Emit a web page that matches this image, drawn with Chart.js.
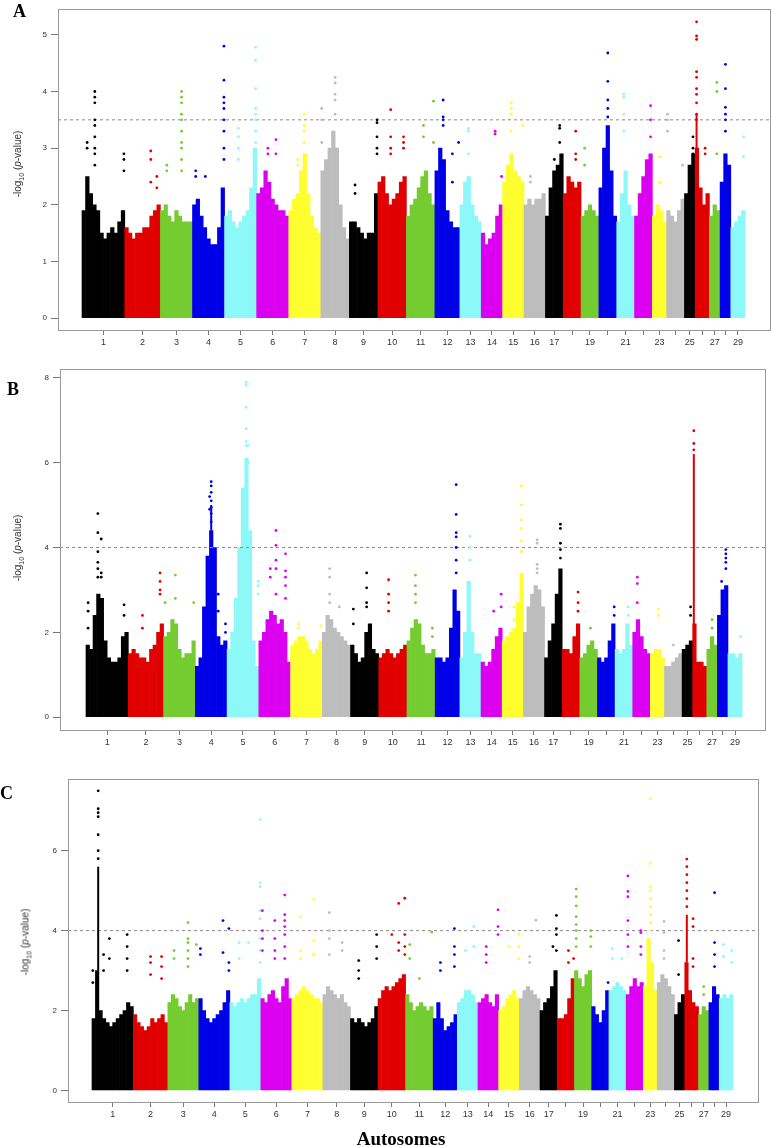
<!DOCTYPE html>
<html>
  <head>
    <meta charset="utf-8" />
    <title>Manhattan plots</title>
    <script src="https://cdn.jsdelivr.net/npm/chart.js"></script>
    <style>
      body { margin: 0; background: #fff; }
      #page { position: relative; width: 772px; height: 1147px; overflow: hidden; }
      .panel { position: absolute; left: 0; }
      .letter { position: absolute; font: bold 18px "Liberation Serif", "Times New Roman", serif; line-height: 1; color: #000; }
      .ytitle { position: absolute; transform: translate(-50%, -50%) rotate(-90deg); white-space: nowrap;
                font: 10px "Liberation Sans", Arial, sans-serif; color: #333; z-index: 2; }
      .ytitle sub { font-size: 7px; }
      #xtitle { position: absolute; left: 401px; top: 1129px; transform: translateX(-50%);
                font: bold 19px "Liberation Serif", "Times New Roman", serif; line-height: 1; }
    </style>
  </head>
  <body>
    <div id="page">
      <div class="panel" style="top:0"><canvas id="chartA" width="772" height="356"></canvas></div>
      <div class="panel" style="top:360px"><canvas id="chartB" width="772" height="400"></canvas></div>
      <div class="panel" style="top:770px"><canvas id="chartC" width="772" height="377"></canvas></div>
      <div class="letter" style="left:13px; top:2px">A</div>
      <div class="letter" style="left:7px; top:380px">B</div>
      <div class="letter" style="left:0px; top:784px">C</div>
      <div class="ytitle" style="left:18px; top:164px">-log<sub>10</sub> (<i>p</i>-value)</div>
      <div class="ytitle" style="left:18px; top:548px">-log<sub>10</sub> (<i>p</i>-value)</div>
      <div class="ytitle" style="left:26px; top:942px">-log<sub>10</sub> (<i>p</i>-value)</div>
      <div id="xtitle">Autosomes</div>
    </div>

    <script>
      // tick labels under each chromosome (R drops the ones that would overlap)
      const chromLabels = ["1", "2", "3", "4", "5", "6", "7", "8", "9", "10", "11", "12", "13", "14",
        "15", "16", "17", "", "19", "", "21", "", "23", "", "25", "", "27", "", "29"];
      const palette = ["#000000", "#e00000", "#74cc30", "#0000e8", "#8cf8f8", "#dc00f0", "#ffff30", "#bdbdbd"];
      const thresholds = [3.5, 4, 4];

      // dense band height per bin, one list per chromosome
      const heightsA = [
        [1.9, 2.5, 2.2, 2.0, 1.9, 1.5, 1.4, 1.5, 1.6, 1.5, 1.7, 1.9],
        [1.6, 1.5, 1.4, 1.5, 1.5, 1.6, 1.6, 1.8, 1.9, 2.0],
        [1.9, 2.0, 1.8, 1.7, 1.9, 1.8, 1.7, 1.7, 1.7],
        [2.0, 2.1, 1.8, 1.6, 1.4, 1.3, 1.3, 1.6, 2.3],
        [1.8, 1.9, 1.7, 1.6, 1.7, 1.8, 1.9, 2.3, 3.0],
        [2.2, 2.3, 2.6, 2.4, 2.1, 2.0, 1.9, 1.9, 1.8],
        [1.9, 2.1, 2.2, 2.6, 2.9, 2.2, 1.8, 1.6, 1.5],
        [2.6, 2.8, 3.0, 3.3, 3.0, 2.0, 1.6, 1.4],
        [1.7, 1.7, 1.6, 1.5, 1.4, 1.5, 1.5, 2.2],
        [2.4, 2.5, 2.2, 2.0, 2.1, 2.2, 2.4, 2.5],
        [1.8, 2.0, 2.1, 2.3, 2.5, 2.6, 2.2, 2.0],
        [2.6, 3.0, 2.8, 1.9, 1.7, 1.6, 1.6],
        [2.0, 2.4, 2.5, 2.0, 1.8, 1.7],
        [1.5, 1.3, 1.4, 1.5, 1.8, 2.0],
        [2.4, 2.7, 2.9, 2.6, 2.5, 2.4],
        [2.0, 2.1, 2.0, 2.1, 2.1, 2.2],
        [1.8, 2.3, 2.6, 2.7, 2.9],
        [2.2, 2.5, 2.4, 2.3, 2.4],
        [1.8, 1.9, 2.0, 1.9, 1.8],
        [2.3, 3.0, 3.4, 2.6, 1.8],
        [1.7, 2.2, 2.6, 2.0, 1.8],
        [1.8, 2.2, 2.5, 2.8, 2.9],
        [1.8, 2.0, 1.9, 1.7],
        [1.9, 1.8, 1.7, 1.9, 2.1],
        [2.2, 2.7, 2.9],
        [3.0, 2.3, 2.0, 2.2],
        [1.8, 2.0, 1.9],
        [2.4, 2.9, 2.7],
        [1.6, 1.7, 1.8, 1.9]
      ];
      const heightsB = [
        [1.7, 1.6, 2.4, 2.9, 2.8, 1.8, 1.4, 1.3, 1.3, 1.4, 1.9, 2.0],
        [1.5, 1.6, 1.5, 1.4, 1.4, 1.3, 1.6, 1.7, 2.0, 2.2],
        [1.9, 2.0, 2.3, 2.2, 1.6, 1.4, 1.5, 1.5, 1.8],
        [1.2, 1.4, 2.6, 3.8, 4.4, 4.0, 1.9, 1.7, 1.8],
        [1.6, 2.0, 2.8, 4.0, 5.4, 6.1, 4.4, 1.8, 1.2],
        [1.8, 2.0, 2.3, 2.5, 2.4, 2.2, 2.3, 2.0, 1.3],
        [1.7, 1.8, 1.9, 1.9, 1.8, 1.6, 1.5, 1.6, 1.8],
        [2.0, 2.4, 2.3, 2.1, 2.0, 1.9, 1.8, 1.7],
        [1.7, 1.5, 1.3, 1.4, 2.0, 2.2, 1.6, 1.5],
        [1.4, 1.5, 1.6, 1.5, 1.4, 1.5, 1.6, 1.7],
        [1.8, 2.1, 2.3, 2.2, 1.7, 1.5, 1.5, 1.6],
        [1.4, 1.4, 1.3, 1.4, 2.1, 3.0, 2.5],
        [1.4, 2.0, 3.2, 2.0, 1.5, 1.5],
        [1.3, 1.2, 1.3, 1.6, 1.9, 2.1],
        [1.8, 1.9, 2.0, 2.1, 2.7, 3.4],
        [2.0, 2.6, 2.9, 3.1, 3.0, 2.6],
        [1.4, 1.8, 2.2, 2.9, 3.5],
        [1.6, 1.6, 1.5, 1.9, 2.2],
        [1.4, 1.5, 1.7, 1.8, 1.6],
        [1.4, 1.3, 1.4, 1.8, 2.2],
        [1.6, 1.5, 1.6, 2.2, 1.7],
        [2.0, 2.3, 1.9, 1.6, 1.5],
        [1.5, 1.6, 1.6, 1.4],
        [1.2, 1.2, 1.3, 1.4, 1.5],
        [1.6, 1.7, 1.8],
        [2.2, 1.3, 1.3, 1.2],
        [1.6, 1.9, 1.7],
        [2.4, 3.0, 3.1],
        [1.5, 1.5, 1.4, 1.5]
      ];
      const heightsC = [
        [1.8, 3.0, 2.0, 1.8, 1.7, 1.6, 1.7, 1.8, 1.9, 2.0, 2.2, 2.1],
        [1.9, 1.7, 1.6, 1.5, 1.6, 1.8, 1.7, 1.8, 1.9, 1.7],
        [2.2, 2.4, 2.3, 2.1, 2.0, 2.2, 2.4, 2.2, 2.3],
        [2.3, 2.0, 1.8, 1.7, 1.8, 1.9, 2.0, 2.2, 2.5],
        [2.2, 2.1, 2.2, 2.3, 2.2, 2.3, 2.4, 2.4, 2.8],
        [2.3, 2.2, 2.4, 2.5, 2.3, 2.2, 2.6, 2.8, 2.3],
        [2.3, 2.4, 2.5, 2.6, 2.5, 2.4, 2.3, 2.3, 2.2],
        [2.4, 2.6, 2.5, 2.4, 2.3, 2.4, 2.2, 2.1],
        [1.8, 1.7, 1.8, 1.7, 1.6, 1.7, 1.8, 2.1],
        [2.3, 2.5, 2.6, 2.5, 2.6, 2.7, 2.8, 2.9],
        [2.4, 2.2, 2.0, 2.1, 2.2, 2.1, 2.0, 2.1],
        [1.8, 2.2, 1.8, 1.5, 1.6, 1.7, 1.9],
        [2.2, 2.3, 2.5, 2.5, 2.4, 2.2],
        [2.2, 2.3, 2.4, 2.2, 2.1, 2.4],
        [2.0, 2.1, 2.3, 2.4, 2.5, 2.3],
        [2.3, 2.5, 2.6, 2.5, 2.4, 2.3],
        [2.0, 2.2, 2.3, 2.6, 3.0],
        [1.8, 1.8, 1.9, 2.3, 2.8],
        [3.0, 2.8, 2.6, 2.9, 3.0],
        [2.1, 1.9, 1.7, 2.0, 2.5],
        [2.5, 2.6, 2.7, 2.6, 2.5],
        [2.4, 2.6, 2.8, 2.6, 2.7],
        [2.6, 3.8, 3.2, 2.5],
        [2.7, 2.9, 2.8, 2.6, 2.4],
        [1.9, 2.2, 2.4],
        [3.2, 2.5, 2.2, 2.1],
        [1.9, 2.1, 2.0],
        [2.2, 2.6, 2.4],
        [2.3, 2.4, 2.3, 2.4]
      ];

      // sparse SNPs above the band: [chromosome, position within it (0-1), values]
      const peaksA = [
        [1, 0.3, [4.0, 3.9, 3.8, 3.5, 3.4, 3.2, 3.0, 2.9, 2.7]], [1, 0.12, [3.1, 3.0]], [1, 0.98, [2.9, 2.8, 2.6]],
        [2, 0.73, [2.95, 2.8, 2.4]], [2, 0.9, [2.5, 2.3]],
        [3, 0.66, [4.0, 3.9, 3.8, 3.6, 3.5, 3.3, 3.1, 3.0, 2.8, 2.6]], [3, 0.2, [2.7, 2.6]],
        [4, 0.98, [4.8, 4.2, 3.9, 3.8, 3.7, 3.5, 3.3, 3.0, 2.8]], [4, 0.1, [2.6, 2.5]], [4, 0.4, [2.5]],
        [5, 0.97, [4.78, 4.55, 4.05, 3.7, 3.6, 3.5, 3.3, 3.1]], [5, 0.43, [3.35, 3.2, 3.0, 2.8]],
        [6, 0.6, [3.15, 2.9]], [6, 0.35, [3.0, 2.9]],
        [7, 0.48, [3.6, 3.4, 3.3, 3.1]], [7, 0.28, [2.8, 2.7]],
        [8, 0.5, [4.25, 4.15, 3.95, 3.85, 3.6]], [8, 0.03, [3.7, 3.5, 3.1]],
        [9, 0.2, [2.35, 2.2]], [9, 0.97, [3.5, 3.45, 3.2, 3.0, 2.9]],
        [10, 0.45, [3.68, 3.2, 3.0, 2.9]], [10, 0.9, [3.2, 3.1, 3.0]],
        [11, 0.6, [3.4, 3.2]], [11, 0.95, [3.83, 3.1]],
        [12, 0.33, [3.85, 3.55, 3.5, 3.4]], [12, 0.7, [2.9, 2.4]], [12, 0.95, [3.1]],
        [13, 0.4, [3.35, 3.3, 2.9]],
        [14, 0.65, [3.3, 3.25]], [14, 0.95, [2.5]],
        [15, 0.4, [3.8, 3.7, 3.6, 3.3]], [15, 0.95, [3.4]],
        [16, 0.3, [2.5, 2.4]],
        [17, 0.8, [3.4, 3.35, 3.1]], [17, 0.5, [2.8]],
        [18, 0.7, [3.3, 2.9, 2.8]],
        [19, 0.2, [3.0, 2.7]],
        [20, 0.5, [4.68, 4.18, 3.85, 3.7, 3.55]],
        [21, 0.4, [3.95, 3.9, 3.6, 3.3]],
        [22, 0.9, [3.75, 3.5, 3.2]],
        [23, 0.5, [2.85, 2.4]],
        [24, 0.05, [3.6, 3.5, 3.3]], [24, 0.9, [2.7]],
        [25, 0.8, [3.2, 3.0, 2.9]],
        [26, 0.1, [5.23, 4.98, 4.92, 4.35, 4.25, 4.05, 3.95, 3.8, 3.6, 3.5]], [26, 0.7, [3.0, 2.9]],
        [27, 0.7, [4.16, 4.0, 2.9]],
        [28, 0.5, [4.48, 4.05, 3.72, 3.6, 3.5, 3.3]],
        [29, 0.9, [3.2, 2.85]]
      ];
      const peaksB = [
        [1, 0.28, [4.8, 4.35, 3.9, 3.65, 3.5, 3.3]], [1, 0.36, [4.2, 3.4, 3.3]], [1, 0.05, [2.7, 2.5, 2.1]], [1, 0.9, [2.65, 2.4]],
        [2, 0.9, [3.4, 3.2, 3.0, 2.9]], [2, 0.4, [2.4, 2.1]],
        [3, 0.37, [3.35, 2.8]], [3, 0.95, [2.7]], [3, 0.05, [2.7]],
        [4, 0.5, [5.55, 5.45, 5.3, 5.1, 4.95, 4.8, 4.6]], [4, 0.45, [5.2, 4.9]], [4, 0.72, [2.9, 2.5]], [4, 0.95, [2.2, 2.0]],
        [5, 0.6, [7.89, 7.82, 7.3, 6.8, 6.5, 6.4]], [5, 0.66, [6.4, 6.0]], [5, 0.98, [3.2, 3.1, 2.9]],
        [6, 0.54, [4.4, 4.05, 3.7, 3.5, 2.9]], [6, 0.84, [3.85, 3.45, 3.3, 3.1, 2.8]], [6, 0.36, [3.5, 3.3]],
        [7, 0.25, [2.2, 2.1]], [7, 0.95, [2.15]],
        [8, 0.26, [3.5, 3.3, 2.9, 2.7]], [8, 0.6, [2.6]],
        [9, 0.57, [3.4, 3.05, 2.7, 2.6]], [9, 0.1, [2.55, 2.2]],
        [10, 0.35, [3.24, 2.9, 2.7, 2.5]],
        [11, 0.3, [3.35, 3.1, 2.9, 2.7]], [11, 0.9, [2.1, 1.9]],
        [12, 0.85, [5.48, 4.78, 4.35, 4.25, 4.0, 3.7, 3.4]],
        [13, 0.48, [4.26, 4.0, 3.7]],
        [14, 0.95, [2.9, 2.6]], [14, 0.6, [2.5]],
        [15, 0.9, [5.45, 5.0, 4.65, 4.45, 4.15, 3.9]], [15, 0.55, [2.6, 2.3]],
        [16, 0.65, [4.18, 4.1, 3.6, 3.5, 3.4]],
        [17, 0.9, [4.55, 4.45, 4.1, 3.95, 3.75]],
        [18, 0.9, [2.95, 2.7, 2.5]],
        [19, 0.6, [2.1]],
        [20, 0.95, [2.6, 2.4]],
        [21, 0.75, [2.6, 2.4]],
        [22, 0.26, [3.3, 3.15, 2.7]],
        [23, 0.55, [2.55, 2.4]],
        [24, 0.5, [1.7]],
        [25, 0.8, [2.6, 2.4]],
        [26, 0.08, [6.75, 6.45, 6.3]],
        [27, 0.5, [2.3, 2.1]],
        [28, 0.8, [3.95, 3.85, 3.75, 3.65, 3.5]], [28, 0.4, [3.2]],
        [29, 0.9, [1.9]]
      ];
      const peaksC = [
        [1, 0.15, [7.5, 7.05, 6.95, 6.85, 6.4, 6.0, 5.8]], [1, 0.42, [3.8, 3.3]], [1, 0.85, [3.9, 3.6, 3.3, 3.0]],
        [1, 0.28, [3.4, 3.0]], [1, 0.02, [3.0, 2.7]],
        [2, 0.5, [3.35, 3.2, 2.9]], [2, 0.82, [3.35, 3.1, 2.8]],
        [3, 0.65, [4.2, 3.8, 3.7, 3.5, 3.3, 3.1]], [3, 0.2, [3.5, 3.3]], [3, 0.92, [3.65]],
        [4, 0.78, [4.25, 3.45]], [4, 0.97, [4.05, 3.2, 3.0]], [4, 0.05, [3.55, 3.4]],
        [5, 0.98, [6.78, 5.2, 5.1, 4.5, 4.3, 3.8, 3.5, 3.2]], [5, 0.3, [3.7, 3.3]], [5, 0.6, [3.7]],
        [6, 0.77, [4.89, 4.4, 4.25, 4.1, 3.9, 3.6, 3.3]], [6, 0.45, [4.25, 3.8, 3.5, 3.3]], [6, 0.05, [4.5, 4.0, 3.8, 3.5]],
        [7, 0.7, [4.78, 3.75, 3.4]], [7, 0.28, [4.35, 3.5, 3.3]],
        [8, 0.23, [4.45, 4.0, 3.8, 3.4]], [8, 0.7, [3.7, 3.5]],
        [9, 0.3, [3.25, 3.0, 2.8]], [9, 0.95, [3.9, 3.6, 3.3]],
        [10, 0.97, [4.81, 3.9, 3.6, 3.4]], [10, 0.75, [4.68, 3.7, 3.5]], [10, 0.5, [3.9]],
        [11, 0.15, [3.65, 3.3]], [11, 0.5, [2.8]], [11, 0.95, [3.96]],
        [12, 0.88, [4.05, 3.6, 3.4, 3.1]], [12, 0.3, [3.2, 3.0]],
        [13, 0.8, [4.1, 3.6]], [13, 0.4, [3.5]],
        [14, 0.97, [4.52, 4.1, 3.9]], [14, 0.4, [3.6, 3.4, 3.2]],
        [15, 0.98, [3.9, 3.6, 3.3]], [15, 0.5, [3.6]],
        [16, 0.8, [4.26]], [16, 0.5, [3.35, 3.2]],
        [17, 0.95, [4.38, 4.05, 3.9, 3.5]], [17, 0.75, [3.6]],
        [18, 0.65, [3.5, 3.2]], [18, 0.95, [3.3]],
        [19, 0.1, [5.04, 4.85, 4.62, 4.35, 4.15, 4.0, 3.8, 3.6]], [19, 0.95, [4.0, 3.85, 3.6]],
        [20, 0.95, [2.7]],
        [21, 0.2, [3.55, 3.3]], [21, 0.75, [3.3]],
        [22, 0.1, [5.37, 4.98, 4.85, 4.25, 3.9, 3.6]], [22, 0.85, [4.0, 3.95, 3.6, 3.4]],
        [23, 0.5, [7.3, 5.68, 5.1, 5.0, 4.8, 4.6, 4.4, 4.2, 4.0]],
        [24, 0.4, [4.23, 3.95, 3.5, 3.3]],
        [25, 0.4, [3.75, 2.9]],
        [26, 0.15, [5.79, 5.6, 5.4, 5.2, 5.0, 4.8, 4.6]], [26, 0.6, [4.3, 4.1, 3.3, 3.1]],
        [27, 0.5, [2.6, 2.4]],
        [28, 0.55, [4.95, 3.7, 3.4, 3.1]],
        [29, 0.3, [3.65, 3.35]], [29, 0.9, [3.5, 3.2]]
      ];

      // narrow solid columns: [chromosome, position, from, to]
      const spikesA = [[26, 0.1, 2.3, 3.6]];
      const spikesB = [[26, 0.08, 2.2, 6.2], [4, 0.5, 4.4, 5.0]];
      const spikesC = [[1, 0.15, 3.0, 5.6], [26, 0.15, 3.2, 4.4]];

      const yTicksA = [0, 1, 2, 3, 4, 5];
      const yTicksB = [0, 2, 4, 6, 8];
      const yTicksC = [0, 2, 4, 6];

      // bin offsets of each chromosome along the genome axis
      const chromBins = heightsA.map((h) => h.length);
      const starts = [];
      let acc = 0;
      chromBins.forEach((n) => { starts.push(acc); acc += n; });
      const centers = chromBins.map((n, i) => starts[i] + n / 2);
      const colorOf = (c) => palette[c % palette.length];
      const genomeX = (chr, pos) => starts[chr - 1] + pos * chromBins[chr - 1];

      const boxPlugin = {
        id: "box",
        afterDraw(chart) {
          const { ctx, chartArea: a } = chart;
          ctx.save();
          ctx.strokeStyle = "#9a9a9a";
          ctx.lineWidth = 1;
          ctx.strokeRect(Math.round(a.left) + 0.5, Math.round(a.top) + 0.5,
            Math.round(a.right - a.left), Math.round(a.bottom - a.top));
          ctx.restore();
        },
      };

      function makePanel(id, heights, peaks, spikes, threshold, yTicks, view) {
        const bars = [], barColors = [];
        heights.forEach((arr, c) => arr.forEach((h, j) => {
          bars.push({ x: starts[c] + j + 0.5, y: h });
          barColors.push(colorOf(c));
        }));
        const pts = [], ptColors = [];
        peaks.forEach(([chr, pos, vals]) => vals.forEach((v) => {
          pts.push({ x: genomeX(chr, pos), y: v });
          ptColors.push(colorOf(chr - 1));
        }));

        const datasets = [
          { type: "bar", data: bars, backgroundColor: barColors, borderWidth: 0,
            barPercentage: 1, categoryPercentage: 1, order: 3 },
          { type: "line", data: [{ x: view.xMin, y: threshold }, { x: view.xMax, y: threshold }],
            borderColor: "#8a8a8a", borderWidth: 1, borderDash: [3, 3], pointRadius: 0, order: 2 },
          { type: "scatter", data: pts, pointBackgroundColor: ptColors, pointBorderWidth: 0,
            pointRadius: 1.4, pointHoverRadius: 0, order: 1 },
        ];
        spikes.forEach(([chr, pos, from, to]) => {
          const x = genomeX(chr, pos);
          datasets.push({ type: "line", data: [{ x, y: from }, { x, y: to }],
            borderColor: colorOf(chr - 1), borderWidth: 2, pointRadius: 0, order: 1 });
        });

        const family = "'Liberation Sans', Arial, sans-serif";
        new Chart(document.getElementById(id), {
          type: "bar",
          data: { datasets },
          plugins: [boxPlugin],
          options: {
            responsive: false,
            animation: false,
            layout: { padding: { top: view.top, right: view.right, left: 0, bottom: 0 } },
            plugins: { legend: { display: false }, tooltip: { enabled: false } },
            scales: {
              x: {
                type: "linear", min: view.xMin, max: view.xMax, offset: false,
                afterBuildTicks: (s) => { s.ticks = centers.map((v) => ({ value: v })); },
                afterFit: (s) => { s.height = view.xHeight; },
                ticks: { autoSkip: false, maxRotation: 0, padding: 2, color: "#333",
                  font: { family, size: 9 }, callback: (v, i) => chromLabels[i] },
                grid: { drawOnChartArea: false, tickLength: 5, color: "#777", offset: false },
                border: { display: false },
              },
              y: {
                type: "linear", min: view.yMin, max: view.yMax,
                afterBuildTicks: (s) => { s.ticks = yTicks.map((v) => ({ value: v })); },
                afterFit: (s) => { s.width = view.yWidth; },
                ticks: { padding: 4, color: "#333", font: { family, size: 8 } },
                grid: { drawOnChartArea: false, tickLength: 7, color: "#777" },
                border: { display: false },
              },
            },
          },
        });
      }

      makePanel("chartA", heightsA, peaksA, spikesA, thresholds[0], yTicksA,
        { xMin: -6.73, xMax: 193.0, yMin: -0.21, yMax: 5.46, top: 8, right: 2, yWidth: 58, xHeight: 26 });
      makePanel("chartB", heightsB, peaksB, spikesB, thresholds[1], yTicksB,
        { xMin: -7.37, xMax: 192.5, yMin: -0.3, yMax: 8.21, top: 6, right: 7, yWidth: 60, xHeight: 30 });
      makePanel("chartC", heightsC, peaksC, spikesC, thresholds[2], yTicksC,
        { xMin: -6.96, xMax: 193.25, yMin: -0.29, yMax: 7.8, top: 8, right: 14, yWidth: 68, xHeight: 45 });
    </script>
  </body>
</html>
